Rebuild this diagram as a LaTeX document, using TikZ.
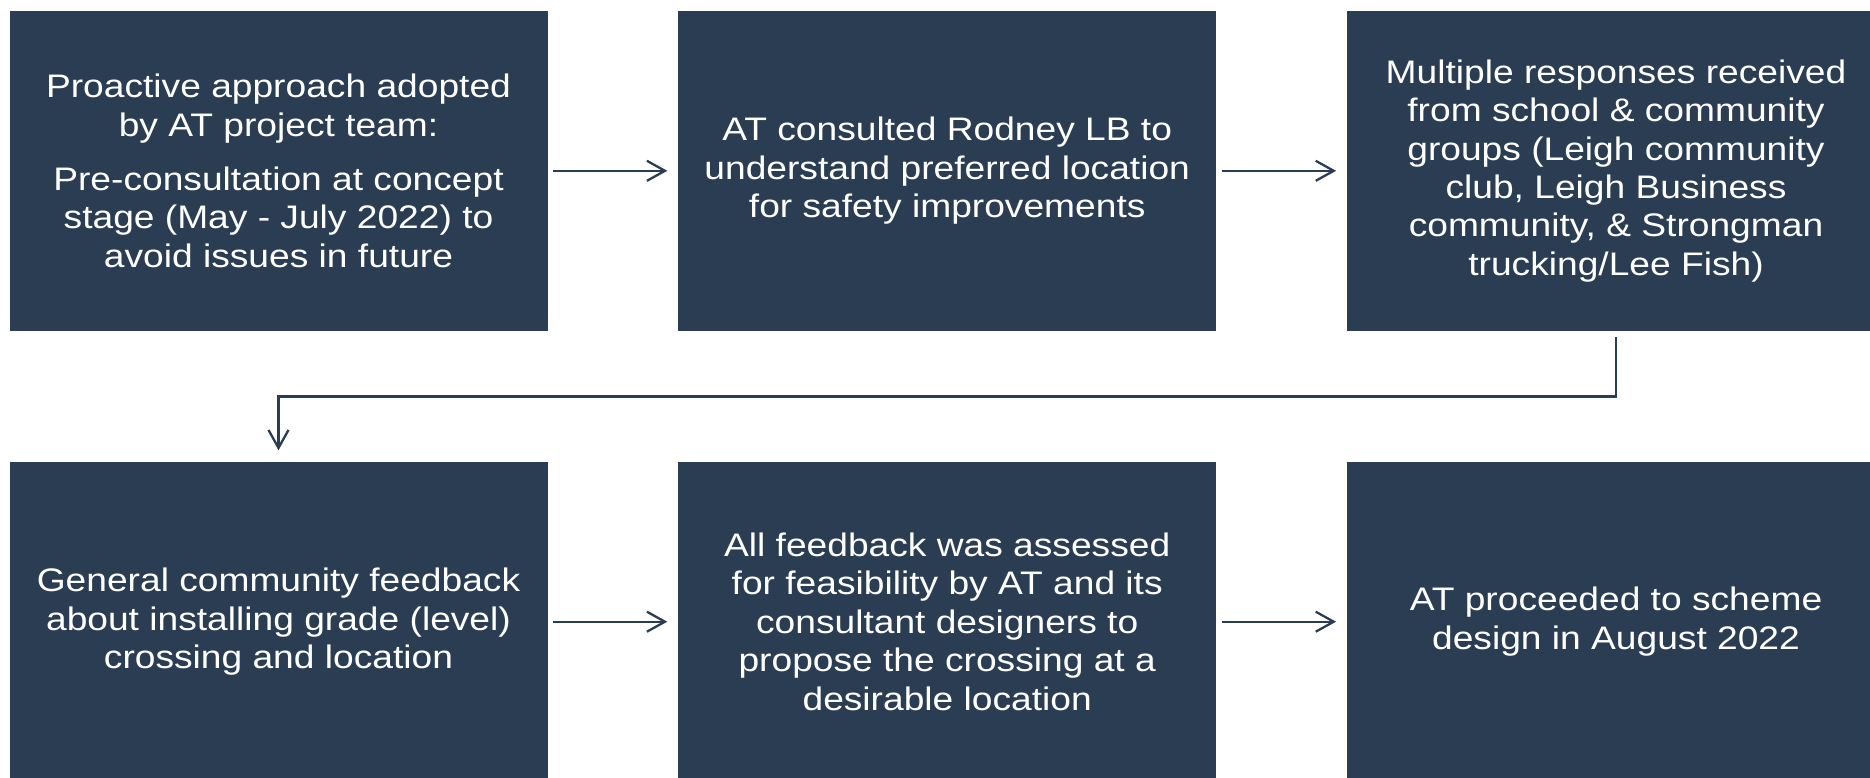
\documentclass[tikz,border=0pt]{standalone}
\usepackage{fontspec}
\setmainfont{Liberation Sans}[FakeStretch=1.14]
\usetikzlibrary{arrows.meta}
\definecolor{boxblue}{HTML}{2A3D53}
\tikzset{
    every node/.style={rectangle, inner sep=0mm, fill=boxblue, text=white, minimum width=269pt, minimum height=160pt, align=center, font=\fontsize{16.3pt}{19.2pt}\selectfont}
}
\tikzset{flow/.style={draw=boxblue, line width=1.15pt, -{Straight Barb[length=9pt,width=10pt,line width=1.15pt]}, shorten <=2.75pt, shorten >=5.25pt}}

\begin{document}
\begin{tikzpicture}
        \useasboundingbox (0pt,0pt) rectangle (935pt,-388.5pt);
        \clip (0pt,0pt) rectangle (935pt,-388.5pt);
        \node (b1) at (139.25pt, -85.4pt) {Proactive approach adopted\\by AT project team:\\[8pt]Pre-consultation at concept\\stage (May - July 2022) to\\avoid issues in future};
        \node (b2) at (473.6pt, -85.4pt) {AT consulted Rodney LB to\\understand preferred location\\for safety improvements};
        \node (b3) at (808pt, -85.4pt) {Multiple responses received\\from school \& community\\groups (Leigh community\\club, Leigh Business\\community, \& Strongman\\trucking/Lee Fish)};
        \node (b4) at (139.25pt, -310.85pt) {General community feedback\\about installing grade (level)\\crossing and location};
        \node (b5) at (473.6pt, -310.85pt) {All feedback was assessed\\for feasibility by AT and its\\consultant designers to\\propose the crossing at a\\desirable location};
        \node (b6) at (808pt, -310.85pt) {AT proceeded to scheme\\design in August 2022};
        \draw (b1) edge [flow] (b2);
        \draw (b2) edge [flow] (b3);
        \draw (b4) edge [flow] (b5);
        \draw (b5) edge [flow] (b6);
        \draw [flow, shorten <=3pt, shorten >=5.5pt] (b3.south) -- ++(0pt,-32.7pt) -| (b4.north);
\end{tikzpicture}
\end{document}
